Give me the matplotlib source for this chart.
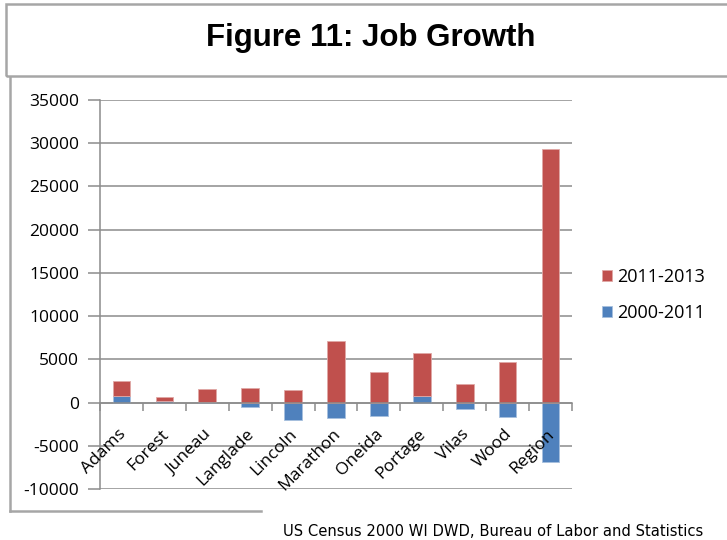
import matplotlib
matplotlib.use("Agg")
import matplotlib.pyplot as plt
from matplotlib import font_manager
from matplotlib.lines import Line2D
from matplotlib.patches import Rectangle
import matplotlib.transforms as mtransforms
import numpy as np

categories = ['Adams', 'Forest', 'Juneau', 'Langlade', 'Lincoln', 'Marathon',
              'Oneida', 'Portage', 'Vilas', 'Wood', 'Region']
growth_2000_2011 = [780, 200, 30, -520, -1970, -1830, -1600, 810, -740, -1620, -6850]
growth_2011_2013 = [1730, 425, 1560, 1740, 1500, 7110, 3580, 4960, 2110, 4650, 29380]
y_ticks = [-10000, -5000, 0, 5000, 10000, 15000, 20000, 25000, 30000, 35000]

available = {f.name for f in font_manager.fontManager.ttflist}
title_font = 'Liberation Sans Narrow' if 'Liberation Sans Narrow' in available else 'Liberation Sans'
body_font = 'Open Sans'

RED = '#C0504D'
BLUE = '#4F81BD'
GRID = '#8C8C8C'
FRAME = '#A6A6A6'

W, H = 727, 540
fig = plt.figure(figsize=(W / 100, H / 100), dpi=100)

def fx(px):
    return px / W

def fy(py):
    return 1 - py / H

# title box and chart frame
fig.add_artist(Rectangle((fx(6), fy(76)), fx(730) - fx(6), fy(4) - fy(76),
                         transform=fig.transFigure, fill=False,
                         edgecolor=FRAME, linewidth=1.8))
fig.add_artist(Line2D([fx(9.5), fx(9.5)], [fy(77), fy(511)],
                      transform=fig.transFigure, color=FRAME, linewidth=1.8))
fig.add_artist(Line2D([fx(9.5), fx(261)], [fy(511), fy(511)],
                      transform=fig.transFigure, color=FRAME, linewidth=1.8))
fig.text(fx(371), fy(38), 'Figure 11: Job Growth', ha='center', va='center',
         fontsize=22.5, fontweight='bold', family=title_font, color='black')

ax = fig.add_axes([fx(100), fy(489), fx(572) - fx(100), fy(100) - fy(489)])

x = np.arange(len(categories))
blue = np.array(growth_2000_2011)
red = np.array(growth_2011_2013)
red_bottom = np.where(blue > 0, blue, 0)
width = 0.41

ax.bar(x, blue, width, color=BLUE, edgecolor='#A7C0DE', linewidth=0.6,
       label='2000-2011', zorder=3)
ax.bar(x, red, width, bottom=red_bottom, color=RED, edgecolor='#E0A8A6',
       linewidth=0.6, label='2011-2013', zorder=3)

ax.set_xlim(-0.5, len(categories) - 0.5)
ax.set_ylim(-10000, 35000)
ax.set_yticks(y_ticks)
ax.set_yticklabels([str(v) for v in y_ticks], fontsize=12.5, family=body_font)
ax.yaxis.grid(True, color=GRID, linewidth=1.1, zorder=0)
ax.set_axisbelow(True)

for side in ['top', 'right']:
    ax.spines[side].set_visible(False)
ax.spines['left'].set_color(GRID)
ax.spines['left'].set_linewidth(1.1)
ax.spines['bottom'].set_position(('data', 0))
ax.spines['bottom'].set_color(GRID)
ax.spines['bottom'].set_linewidth(1.1)
ax.spines['bottom'].set_zorder(4)

ax.tick_params(axis='y', length=9, color=GRID, width=1.1, pad=6)
ax.set_xticks(x)
ax.set_xticklabels(categories, rotation=45, ha='right', rotation_mode='anchor',
                   fontsize=12.5, family=body_font)
ax.tick_params(axis='x', which='major', length=0, pad=17)
ax.set_xticks(np.arange(-0.5, len(categories)), minor=True)
ax.tick_params(axis='x', which='minor', length=6, color=GRID, width=1.1,
               direction='out')
ax.xaxis.set_zorder(5)

# nudge the slanted category names slightly to the left
shift = mtransforms.ScaledTranslation(-4 / 100, 0, fig.dpi_scale_trans)
for lbl in ax.get_xticklabels():
    lbl.set_transform(lbl.get_transform() + shift)

handles, labels = ax.get_legend_handles_labels()
fig.legend(handles[::-1], labels[::-1], loc='center left',
           bbox_to_anchor=(fx(586), fy(295)), frameon=False,
           prop={'family': body_font, 'size': 13},
           handlelength=0.55, handleheight=0.55, handletextpad=0.3,
           labelspacing=1.0)

fig.text(fx(703), fy(531), 'US Census 2000 WI DWD, Bureau of Labor and Statistics',
         ha='right', va='center', fontsize=10.6, family='DejaVu Sans')

fig.savefig('out.png', dpi=100)
